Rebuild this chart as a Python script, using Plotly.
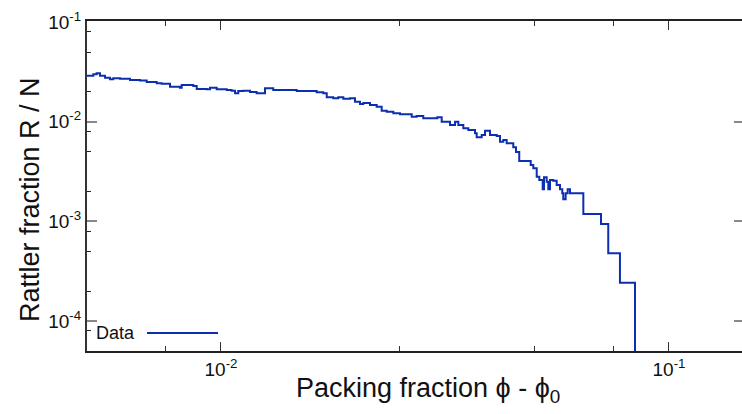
import plotly.graph_objects as go

# Packing fraction (phi - phi0) and rattler fraction R/N
phi = [5.023e-3, 5.188e-3, 5.278e-3, 5.369e-3, 5.509e-3, 5.651e-3, 5.748e-3, 5.950e-3,
       6.264e-3, 6.595e-3, 6.826e-3, 7.186e-3, 7.372e-3, 7.694e-3, 8.099e-3, 8.170e-3,
       8.672e-3, 8.826e-3, 9.292e-3, 9.450e-3, 9.781e-3, 1.030e-2, 1.056e-2, 1.075e-2,
       1.093e-2, 1.121e-2, 1.161e-2, 1.201e-2, 1.254e-2, 1.308e-2, 1.476e-2, 1.635e-2,
       1.692e-2, 1.722e-2, 1.781e-2, 1.827e-2, 1.875e-2, 1.941e-2, 1.991e-2, 2.043e-2,
       2.078e-2, 2.151e-2, 2.226e-2, 2.284e-2, 2.344e-2, 2.425e-2, 2.509e-2, 2.665e-2,
       2.734e-2, 2.828e-2, 3.040e-2, 3.109e-2, 3.245e-2, 3.330e-2, 3.387e-2, 3.475e-2,
       3.565e-2, 3.690e-2, 3.722e-2, 3.819e-2, 3.885e-2, 3.985e-2, 4.125e-2, 4.196e-2,
       4.267e-2, 4.342e-2, 4.492e-2, 4.555e-2, 4.632e-2, 4.913e-2, 4.979e-2, 5.067e-2,
       5.135e-2, 5.225e-2, 5.260e-2, 5.333e-2, 5.378e-2, 5.425e-2, 5.517e-2, 5.614e-2,
       5.711e-2, 5.778e-2, 5.808e-2, 5.880e-2, 5.941e-2, 6.012e-2, 6.439e-2, 7.051e-2,
       7.319e-2, 7.772e-2, 8.397e-2]
rattler = [2.893e-2, 2.988e-2, 3.058e-2, 2.893e-2, 2.763e-2, 2.663e-2, 2.725e-2, 2.700e-2,
           2.620e-2, 2.589e-2, 2.501e-2, 2.428e-2, 2.405e-2, 2.244e-2, 2.193e-2, 2.334e-2,
           2.281e-2, 2.128e-2, 2.113e-2, 2.193e-2, 2.113e-2, 2.080e-2, 2.046e-2, 1.927e-2,
           2.032e-2, 2.046e-2, 1.986e-2, 1.927e-2, 2.163e-2, 2.080e-2, 2.032e-2, 1.972e-2,
           1.927e-2, 1.757e-2, 1.717e-2, 1.757e-2, 1.701e-2, 1.717e-2, 1.587e-2, 1.505e-2,
           1.540e-2, 1.471e-2, 1.414e-2, 1.289e-2, 1.260e-2, 1.214e-2, 1.186e-2, 1.122e-2,
           1.141e-2, 1.082e-2, 1.107e-2, 1.000e-2, 9.266e-3, 1.000e-2, 9.266e-3, 8.587e-3,
           8.256e-3, 7.648e-3, 6.973e-3, 7.355e-3, 8.124e-3, 7.355e-3, 7.188e-3, 6.301e-3,
           6.554e-3, 6.072e-3, 5.536e-3, 4.968e-3, 4.035e-3, 3.679e-3, 3.408e-3, 2.807e-3,
           2.601e-3, 2.099e-3, 2.769e-3, 2.501e-3, 2.099e-3, 2.601e-3, 2.559e-3, 2.318e-3,
           2.099e-3, 1.913e-3, 1.666e-3, 1.913e-3, 2.099e-3, 1.913e-3, 1.186e-3, 9.417e-4,
           4.786e-4, 2.428e-4, 1e-9]

x_major = [0.01, 0.1]
x_major_text = ["10<sup>-2</sup>", "10<sup>-1</sup>"]
x_minor = [0.0075, 0.025, 0.05, 0.075]
y_major = [1e-1, 1e-2, 1e-3, 1e-4]
y_major_text = ["10<sup>-1</sup>", "10<sup>-2</sup>", "10<sup>-3</sup>", "10<sup>-4</sup>"]
y_minor = [8e-2, 5e-2, 2e-2, 8e-3, 5e-3, 2e-3, 8e-4, 5e-4, 2e-4, 8e-5]

x_title = "Packing fraction \u03d5 - \u03d5<sub>0</sub>"
y_title = "Rattler fraction R / N"

FONT = "Liberation Sans, Arial, Helvetica, sans-serif"
BLUE = "#0b2fae"

fig = go.Figure()
fig.add_trace(go.Scatter(x=phi, y=rattler, mode="lines", line_shape="hv",
                         line=dict(color=BLUE, width=2), name="Data", showlegend=False))
fig.add_trace(go.Scatter(x=[None], y=[None], yaxis="y2", showlegend=False, hoverinfo="skip"))

fig.update_layout(
    width=742, height=414,
    margin=dict(l=87, r=0, t=21, b=63),
    paper_bgcolor="white", plot_bgcolor="white",
    font=dict(family=FONT, color="#111"),
    showlegend=False,
    xaxis=dict(
        type="log", range=[-2.2991, -0.837],
        showgrid=False, zeroline=False,
        showline=True, linecolor="#222", linewidth=2, mirror="ticks",
        ticks="inside", ticklen=9, tickwidth=1, tickcolor="#333",
        tickmode="array", tickvals=x_major, ticktext=x_major_text,
        tickfont=dict(size=19, family=FONT, color="#111"),
        minor=dict(tickmode="array", tickvals=x_minor, ticks="inside",
                   ticklen=5, tickwidth=1, tickcolor="#333", showgrid=False),
    ),
    yaxis=dict(
        type="log", range=[-4.30, -0.99],
        showgrid=False, zeroline=False,
        showline=True, linecolor="#333", linewidth=2,
        ticks="inside", ticklen=10, tickwidth=1.5, tickcolor="#888",
        tickmode="array", tickvals=y_major, ticktext=y_major_text,
        tickfont=dict(size=19, family=FONT, color="#111"),
        minor=dict(tickmode="array", tickvals=y_minor, ticks="inside",
                   ticklen=4, tickwidth=1, tickcolor="#222", showgrid=False),
    ),
    yaxis2=dict(
        type="log", range=[-4.30, -0.99], overlaying="y", side="right",
        showgrid=False, zeroline=False, showline=False,
        ticks="inside", ticklen=8, tickwidth=1.5, tickcolor="#888",
        tickmode="array", tickvals=y_major, showticklabels=False,
    ),
)

# axis titles
fig.add_annotation(xref="paper", yref="paper", x=0.5206, y=-0.118,
                   xanchor="center", yanchor="middle", showarrow=False,
                   text=x_title, font=dict(size=27, family=FONT, color="#111"))
fig.add_annotation(xref="paper", yref="paper", x=-0.087, y=0.4576,
                   xanchor="center", yanchor="middle", showarrow=False, textangle=-90,
                   text=y_title, font=dict(size=27, family=FONT, color="#111"))

# legend (text left of the line sample, as in the reference)
fig.add_annotation(xref="paper", yref="paper", x=0.0763, y=0.0545,
                   xanchor="right", yanchor="middle", showarrow=False,
                   text="Data", font=dict(size=18, family=FONT, color="#111"))
fig.add_shape(type="line", xref="paper", yref="paper", x0=0.0916, x1=0.2,
              y0=0.0545, y1=0.0545, line=dict(color=BLUE, width=2))

fig.write_html("out.html")
